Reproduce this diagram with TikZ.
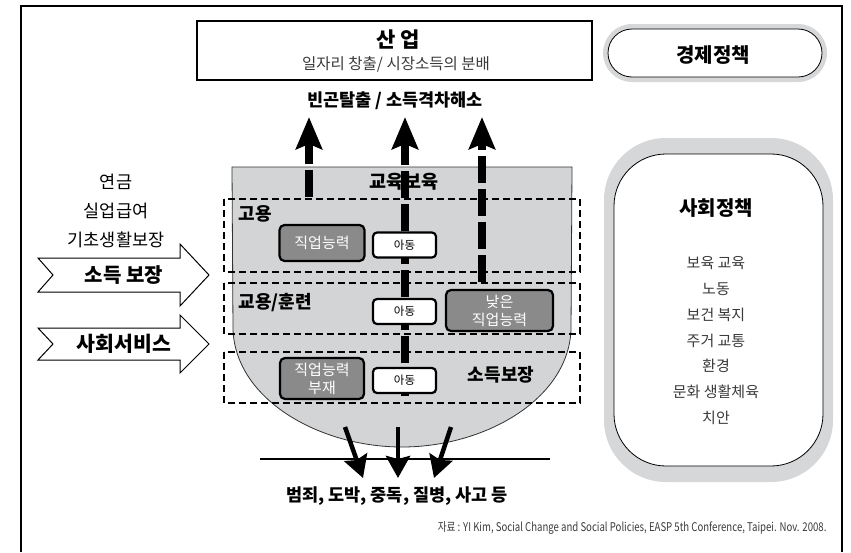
\documentclass[tikz,border=0pt]{standalone}
\usepackage{fontspec}
\usepackage{graphicx}
\setmainfont{Noto Sans CJK KR}
\usetikzlibrary{arrows.meta}
\definecolor{ringgray}{HTML}{D5D7D8}
\definecolor{bowlgray}{HTML}{D3D4D5}
\definecolor{boxgray}{HTML}{8A8A8A}
\definecolor{txtgray}{HTML}{3A3A3A}
\newcommand{\fsz}[1]{\fontsize{#1}{#1}\selectfont}
\tikzset{
  dbox/.style={draw=black, line width=1.6pt, dash pattern=on 7pt off 4pt},
  gbox/.style={draw=black, line width=2.2pt, fill=boxgray, rounded corners=5pt, text=white, font=\fontsize{15}{18}\selectfont, align=center, inner sep=0pt},
  wbox/.style={draw=black, line width=2.2pt, fill=white, rounded corners=4pt, font=\fsz{11.5}, inner sep=0pt, minimum width=63pt, minimum height=25pt},
  uparrow/.style={line width=8.5pt, dash pattern=on 27pt off 6pt, -{Stealth[length=32pt,width=26pt,inset=5pt]}},
  downarrow/.style={line width=4.5pt, -{Stealth[length=22pt,width=24pt,inset=3pt]}},
  bigarrow/.style={draw=black, line width=1pt, fill=white},
  boldlbl/.style={font=\bfseries\fsz{#1}},
  plainlbl/.style={font=\fsz{#1}, text=txtgray},
}
\begin{document}
\begin{tikzpicture}[x=1pt,y=-1pt]
\useasboundingbox (0,0) rectangle (851,552);
% frame
\draw[line width=1.6pt] (21,552) -- (21,6) -- (842,6) -- (842,552);

% industry box
\node[draw=black, line width=1.5pt, minimum width=395pt, minimum height=59pt, inner sep=0pt] (indbox) at (394.5,50.5) {};
\node[boldlbl=21] (sanup) at (398,40) {산 업};
\node[plainlbl=15.5] (sub) at (396,64) {일자리 창출/ 시장소득의 분배};

% economic policy
\fill[ringgray, rounded corners=29pt] (603,24) rectangle (827,82);
\filldraw[fill=white, draw=black, line width=0.8pt, rounded corners=24pt] (608,29) rectangle (822,77);
\node[boldlbl=20] (econ) at (713,55) {경제정책};

% social policy
\fill[ringgray, rounded corners=62pt] (604,138) rectangle (833,482);
\filldraw[fill=white, draw=black, line width=0.8pt, rounded corners=52pt] (614,154) rectangle (823,466);
\node[boldlbl=20] (soc) at (716,208) {사회정책};
\node[plainlbl=15] (s1) at (716,263) {보육 교육};
\node[plainlbl=15] (s2) at (716,289) {노동};
\node[plainlbl=15] (s3) at (716,315) {보건 복지};
\node[plainlbl=15] (s4) at (716,341) {주거 교통};
\node[plainlbl=15] (s5) at (716,366) {환경};
\node[plainlbl=15] (s6) at (716,392) {문화 생활체육};
\node[plainlbl=15] (s7) at (716,418) {치안};

% result label
\node[boldlbl=17.5] (escape) at (395,101) {빈곤탈출 / 소득격차해소};

% left labels
\node[font=\fsz{17.5}] (l1) at (116,182) {연금};
\node[font=\fsz{17.5}] (l2) at (116,211) {실업급여};
\node[font=\fsz{17.5}] (l3) at (116,240) {기초생활보장};

% big arrows
\draw[bigarrow] (38,258) -- (180,258) -- (180,244) -- (209,275) -- (180,306) -- (180,292) -- (38,292) -- (53,275) -- cycle;
\node[boldlbl=20] (income) at (124,275) {소득 보장};
\draw[bigarrow] (38,328) -- (180,328) -- (180,315) -- (209,344) -- (180,373) -- (180,360) -- (38,360) -- (53,344) -- cycle;
\node[boldlbl=20.5] (service) at (124,344) {사회서비스};

% bowl
\filldraw[fill=bowlgray, draw=black!80, line width=0.8pt]
  (232,167) -- (572,167) -- (571,330)
  .. controls (568,400) and (484,447) .. (402,447)
  .. controls (320,447) and (236,400) .. (233,330) -- cycle;

% dashed bands
\draw[dbox] (224,199) rectangle (580,272);
\draw[dbox] (224,283) rectangle (580,334);
\draw[dbox] (224,352) rectangle (580,403);

\node[font=\bfseries\fsz{18.5}] (edu) at (404,182) {교육보육};
\node[boldlbl=18, anchor=west] (emp) at (235,214) {고용};
\node[boldlbl=18, anchor=west] (train) at (235,303) {교용/훈련};
\node[boldlbl=18] (incg) at (501,375) {소득보장};

% upward arrows
\coordinate (a1s) at (309,197);
\coordinate (a1e) at (309,117);
\coordinate (a2s) at (405,396);
\coordinate (a2e) at (405,117);
\coordinate (a3s) at (482,282);
\coordinate (a3e) at (482,117);
\draw[uparrow] (a1s) -- (a1e);
\draw[uparrow] (a2s) -- (a2e);
\draw[uparrow] (a3s) -- (a3e);

% capability boxes
\node[gbox, minimum width=85pt, minimum height=36pt] (cap1) at (322,243) {직업능력};
\node[gbox, minimum width=107pt, minimum height=41pt] (cap2) at (499.5,310.5) {낮은\\직업능력};
\node[gbox, minimum width=84pt, minimum height=41pt] (cap3) at (322,378.5) {직업능력\\부재};

\node[wbox] (ch1) at (404.5,245) {아동};
\node[wbox] (ch2) at (404.5,311.5) {아동};
\node[wbox] (ch3) at (404.5,380.5) {아동};

% downward arrows
\coordinate (gl) at (260,459);
\coordinate (gr) at (550,459);
\draw[line width=2pt] (gl) -- (gr);
\coordinate (d1s) at (345,427);
\coordinate (d1e) at (363,478);
\coordinate (d2s) at (398,427);
\coordinate (d2e) at (398,478);
\coordinate (d3s) at (451,427);
\coordinate (d3e) at (434,478);
\draw[downarrow] (d1s) -- (d1e);
\draw[downarrow] (d2s) -- (d2e);
\draw[downarrow] (d3s) -- (d3e);

\node[boldlbl=17.5] (risk) at (397,496) {범죄, 도박, 중독, 질병, 사고 등};

\node[anchor=east, plainlbl=12] (src) at (830,528) {\scalebox{0.8}[1]{자료 : YI Kim, Social Change and Social Policies, EASP 5th Conference, Taipei. Nov. 2008.}};
\end{tikzpicture}
\end{document}
